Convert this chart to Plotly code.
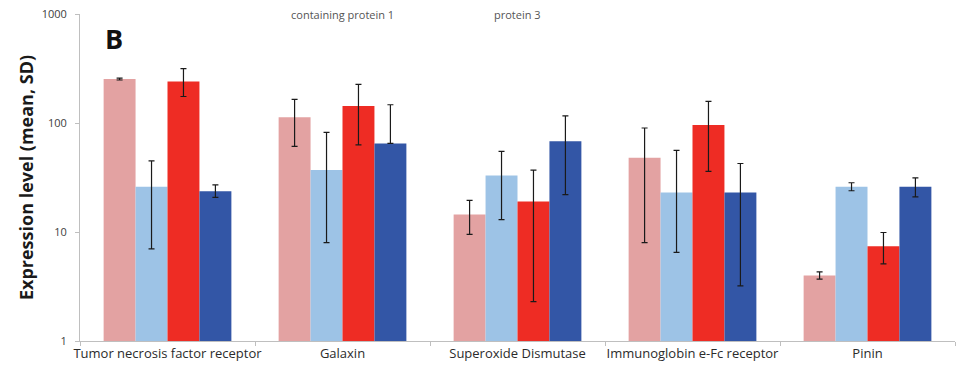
import plotly.graph_objects as go

# Proteins on the x axis
categories = [
    "Tumor necrosis factor receptor",
    "Galaxin",
    "Superoxide Dismutase",
    "Immunoglobin e-Fc receptor",
    "Pinin",
]

# Mean expression level per group
group_a = [253, 113, 14.5, 48, 4.0]
group_b = [26, 37, 33, 23, 26]
group_c = [240, 143, 19, 96, 7.4]
group_d = [23.6, 65, 68, 23, 26]

# SD (upper / lower whisker length)
group_a_up = [5, 52, 5, 42, 0.3]
group_a_dn = [5, 52, 5, 40, 0.3]
group_b_up = [19, 45, 22, 33, 2.3]
group_b_dn = [19, 29, 20, 16.5, 2.1]
group_c_up = [75, 83, 18, 62, 2.5]
group_c_dn = [65, 80, 16.7, 60, 2.3]
group_d_up = [3.5, 82, 48, 19.5, 5.4]
group_d_dn = [2.8, 0, 46, 19.8, 5.0]

# Fragments of the panel above that sit at the top edge
upper_labels = ["containing protein 1", "protein 3"]
upper_label_cats = [1, 2]

y_ticks = [1, 10, 100, 1000]

series = [
    ("Group A", group_a, group_a_up, group_a_dn, "#E3A2A2"),
    ("Group B", group_b, group_b_up, group_b_dn, "#9DC3E6"),
    ("Group C", group_c, group_c_up, group_c_dn, "#EE2C24"),
    ("Group D", group_d, group_d_up, group_d_dn, "#3356A6"),
]

fig = go.Figure()
for name, vals, up, dn, color in series:
    fig.add_trace(go.Bar(
        x=categories,
        y=vals,
        name=name,
        marker=dict(color=color, line=dict(width=0)),
        error_y=dict(type="data", symmetric=False, array=up, arrayminus=dn,
                     color="#1a1a1a", thickness=1.2, width=3),
        showlegend=False,
    ))

fig.update_layout(
    width=961,
    height=371,
    margin=dict(l=80, r=6, t=11, b=30),
    paper_bgcolor="white",
    plot_bgcolor="white",
    barmode="group",
    bargap=0.27,
    bargroupgap=0,
    font=dict(family="Open Sans, sans-serif", color="#333333"),
)

fig.update_xaxes(
    type="category",
    range=[-0.5, 4.5],
    showline=True,
    linecolor="#BFBFBF",
    linewidth=1,
    ticks="outside",
    tickson="boundaries",
    ticklen=4,
    tickcolor="#BFBFBF",
    showgrid=False,
    tickangle=0,
    tickfont=dict(size=13, color="#2b2b2b"),
)

fig.update_yaxes(
    type="log",
    range=[0, 3],
    tickvals=y_ticks,
    ticktext=[str(v) for v in y_ticks],
    showline=True,
    linecolor="#BFBFBF",
    linewidth=1,
    ticks="outside",
    ticklen=4,
    tickcolor="#BFBFBF",
    showgrid=False,
    zeroline=False,
    tickfont=dict(size=11, color="#404040"),
    ticklabelstandoff=6,
    title=dict(text="<b>Expression level (mean, SD)</b>",
               font=dict(size=18, color="#1a1a1a"), standoff=3),
)

# Panel letter
fig.add_annotation(
    text="<b>B</b>", xref="paper", yref="paper", x=0.026, y=0.925,
    xanchor="left", yanchor="middle", showarrow=False,
    font=dict(size=27, color="#111111"),
)

# Category text of the panel above
for txt, c in zip(upper_labels, upper_label_cats):
    fig.add_annotation(
        text=txt, xref="x", yref="paper", x=categories[c], y=1.0,
        yshift=0, xanchor="center", yanchor="middle", showarrow=False,
        font=dict(size=11, color="#555555"),
    )

fig.write_html("out.html")
